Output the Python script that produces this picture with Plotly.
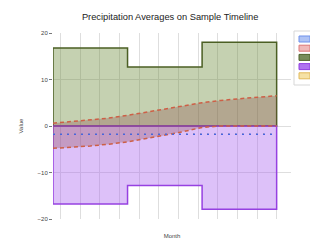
import plotly.graph_objects as go

# ---- data ----
title_text = "Precipitation Averages on Sample Timeline"
x_title = "Month"
y_title = "Value"
x_idx = [0, 1, 2, 3, 4, 5, 6, 7, 8, 9, 10, 11, 12]
upper_vals = [16.8, 16.8, 16.8, 16.8, 12.7, 12.7, 12.7, 12.7, 18.0, 18.0, 18.0, 18.0, 18.0]
lower_vals = [-16.8, -16.8, -16.8, -16.8, -12.8, -12.8, -12.8, -12.8, -17.9, -17.9, -17.9, -17.9, -17.9]
iqr_high = [0.6, 1.0, 1.3, 1.7, 2.3, 3.0, 3.7, 4.4, 5.0, 5.5, 5.9, 6.2, 6.5]
iqr_low = [-4.8, -4.6, -4.3, -3.9, -3.4, -2.7, -2.0, -1.2, -0.3, 0.0, 0.0, 0.0, 0.0]
mean_vals = [-1.8, -1.8, -1.8, -1.8, -1.8, -1.8, -1.8, -1.8, -1.8, -1.8, -1.8, -1.8, -1.8]
base_vals = [-1.8, -1.8, -1.8, -1.8, -1.8, -1.8, -1.8, -1.8, -1.8, -1.8, -1.8, -1.8, -1.8]
series_names = ["μ", "IQ", "hi", "lo", "ref"]
y_ticks = [-20, -10, 0, 10, 20]

# ---- styles ----
line_cols = ["rgb(70,100,225)", "rgb(205,95,70)", "rgb(75,95,35)", "rgb(150,65,225)", "rgb(225,170,60)"]
box_fill = ["rgb(175,195,245)", "rgb(240,185,185)", "rgb(120,140,90)", "rgb(175,115,240)", "rgb(245,225,165)"]
box_line = ["rgb(110,145,235)", "rgb(220,120,120)", "rgb(80,100,45)", "rgb(145,65,225)", "rgb(225,185,90)"]

fig = go.Figure()


def closed(xs, ys):
    return [xs[0]] + xs + [xs[-1], xs[0]], [0] + ys + [0, 0]


gx, gy = closed(x_idx, upper_vals)
fig.add_trace(go.Scatter(x=gx, y=gy, mode="lines", line=dict(color=line_cols[2], width=1.5, shape="hv"),
                         fill="toself", fillcolor="rgba(110,140,60,0.4)", name=series_names[2]))
px_, py_ = closed(x_idx, lower_vals)
fig.add_trace(go.Scatter(x=px_, y=py_, mode="lines", line=dict(color=line_cols[3], width=1.5, shape="hv"),
                         fill="toself", fillcolor="rgba(170,100,240,0.4)", name=series_names[3]))
# IQR band
fig.add_trace(go.Scatter(x=x_idx + x_idx[::-1], y=iqr_high + iqr_low[::-1], mode="lines",
                         line=dict(width=0), fill="toself", fillcolor="rgba(140,70,70,0.3)",
                         name=series_names[1], hoverinfo="skip"))
fig.add_trace(go.Scatter(x=x_idx, y=iqr_high, mode="lines", line=dict(color=line_cols[1], width=1.5, dash="4px,3px"),
                         name=series_names[1]))
fig.add_trace(go.Scatter(x=x_idx, y=iqr_low, mode="lines", line=dict(color=line_cols[1], width=1.5, dash="4px,3px"),
                         name=series_names[1]))
fig.add_trace(go.Scatter(x=x_idx, y=base_vals, mode="lines", line=dict(color=line_cols[4], width=1.5, dash="1px,6px"),
                         name=series_names[4]))
fig.add_trace(go.Scatter(x=x_idx, y=mean_vals, mode="lines", line=dict(color=line_cols[0], width=1.5, dash="2px,5px"),
                         name=series_names[0]))

# manual legend
shapes = [dict(type="rect", xref="paper", yref="paper", xsizemode="pixel", ysizemode="pixel",
               xanchor=1.0, yanchor=1.0, x0=3, x1=80, y0=2, y1=-52,
               line=dict(color="rgb(215,215,215)", width=1), fillcolor="rgba(0,0,0,0)")]
annotations = []
for k, nm in enumerate(series_names):
    cy = -(6 + 9.2 * k)
    shapes.append(dict(type="rect", xref="paper", yref="paper", xsizemode="pixel", ysizemode="pixel",
                       xanchor=1.0, yanchor=1.0, x0=8, x1=19, y0=cy - 3, y1=cy + 3,
                       line=dict(color=box_line[k], width=1), fillcolor=box_fill[k]))
    annotations.append(dict(xref="paper", yref="paper", x=1.0, y=1.0, xshift=20, yshift=cy,
                            text=nm, showarrow=False, xanchor="left", yanchor="middle",
                            borderpad=0, font=dict(size=4.5, color="#444")))

fig.update_layout(
    width=318, height=241,
    margin=dict(l=34, r=35, t=25, b=28),
    paper_bgcolor="white", plot_bgcolor="white",
    showlegend=False,
    font=dict(family="Liberation Sans, Arial, sans-serif", size=6, color="#444"),
    title=dict(text=title_text, x=0.51, xanchor="center", y=0.965, yanchor="middle",
               font=dict(size=9.3, color="#222")),
    shapes=shapes, annotations=annotations,
)
fig.update_xaxes(range=[0, 12.77], tick0=0.395, dtick=1.056, showticklabels=False, ticks="",
                 showgrid=True, gridcolor="rgb(222,222,222)", gridwidth=1, zeroline=False,
                 title=dict(text=x_title, standoff=14, font=dict(size=6)))
fig.update_yaxes(range=[-20, 20], tickvals=y_ticks, ticks="outside", ticklen=3, tickcolor="rgb(120,120,120)",
                 showgrid=True, gridcolor="rgb(222,222,222)", gridwidth=1, zeroline=False,
                 title=dict(text=y_title, standoff=13, font=dict(size=6)), tickfont=dict(size=6))

fig.write_html("out.html")
